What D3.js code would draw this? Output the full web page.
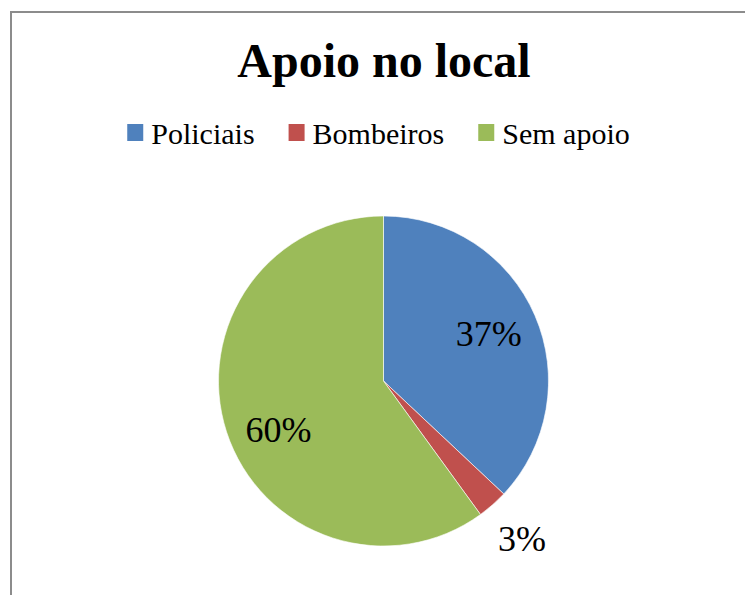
<!DOCTYPE html>
<html>
<head>
<meta charset="utf-8">
<script src="https://cdn.jsdelivr.net/npm/d3@7"></script>
<style>
  body { margin: 0; background: #fff; }
  text { font-family: "Liberation Serif", "Times New Roman", serif; fill: #000; }
</style>
</head>
<body>
<div class="container"></div>
<script>
const WIDTH = 745;
const HEIGHT = 595;

const categories = ['Policiais', 'Bombeiros', 'Sem apoio'];
const values = [37, 3, 60];
const colors = ['#4F81BD', '#C0504D', '#9BBB59'];
// label placement (Excel best fit): radius as fraction of pie radius, angle nudge in degrees
const labelRadius = [0.70, 1.27, 0.70];
const labelNudge = [-1, 0, -6.5];

const CX = 383.5;
const CY = 381;
const R = 165;

var translate = function (x, y) {
  return 'translate(' + x + ',' + y + ')';
};

var svg = d3.select('.container').append('svg')
  .attr('width', WIDTH)
  .attr('height', HEIGHT);

// chart frame
svg.append('rect')
  .attr('x', 11).attr('y', 12)
  .attr('width', 800).attr('height', 700)
  .attr('fill', 'none')
  .attr('stroke', '#8c8c8c')
  .attr('stroke-width', 2);

svg.append('text')
  .attr('x', 384)
  .attr('y', 77)
  .attr('text-anchor', 'middle')
  .style('font-size', '48px')
  .style('font-weight', 'bold')
  .text('Apoio no local');

// legend
var legend = svg.append('g');
var items = legend.selectAll('g')
  .data(categories)
  .enter().append('g');

items.append('rect')
  .attr('width', 16).attr('height', 17)
  .attr('y', 124)
  .attr('fill', function (d, i) { return colors[i]; });

items.append('text')
  .attr('x', 24)
  .attr('y', 144)
  .style('font-size', '30px')
  .text(function (d) { return d; });

var offset = 0;
var widths = [];
items.each(function () {
  widths.push(d3.select(this).select('text').node().getComputedTextLength() + 24);
});
var total = d3.sum(widths) + 34 * (widths.length - 1);
var start = 378.5 - total / 2;
items.attr('transform', function (d, i) {
  var x = start + offset;
  offset += widths[i] + 34;
  return translate(x, 0);
});

// pie
var pie = d3.pie().sort(null).value(function (d) { return d; });
var arcs = pie(values);
var arc = d3.arc().innerRadius(0).outerRadius(R);

var g = svg.append('g').attr('transform', translate(CX, CY));

g.selectAll('path')
  .data(arcs)
  .enter().append('path')
  .attr('d', arc)
  .attr('fill', function (d, i) { return colors[i]; })
  .attr('stroke', '#ffffff')
  .attr('stroke-width', 0.6);

g.selectAll('text.label')
  .data(arcs)
  .enter().append('text')
  .classed('label', true)
  .attr('transform', function (d, i) {
    var r = R * labelRadius[i];
    var a = (d.startAngle + d.endAngle) / 2 + labelNudge[i] * Math.PI / 180;
    return translate(r * Math.sin(a), -r * Math.cos(a));
  })
  .attr('text-anchor', 'middle')
  .attr('dy', '0.35em')
  .style('font-size', '36px')
  .text(function (d) { return d.data + '%'; });
</script>
</body>
</html>
